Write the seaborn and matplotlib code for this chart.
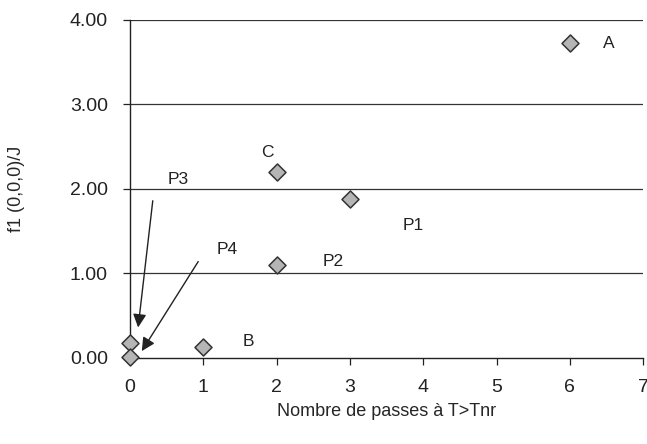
import matplotlib
matplotlib.use("Agg")
import matplotlib.pyplot as plt
import seaborn as sns
import pandas as pd

# points
passes = [0, 0, 1, 2, 2, 3, 6]
f1 = [0.18, 0.01, 0.13, 2.20, 1.10, 1.88, 3.73]

labels = ["A", "C", "P3", "P4", "P2", "P1", "B"]
label_x = [6.53, 1.87, 0.65, 1.32, 2.77, 3.87, 1.61]
label_y = [3.72, 2.43, 2.11, 1.28, 1.14, 1.57, 0.19]

# arrows (start -> tip) for P3 and P4
arrow_start = [(0.31, 1.86), (0.93, 1.14)]
arrow_tip = [(0.11, 0.36), (0.16, 0.08)]

df = pd.DataFrame({"passes": passes, "f1": f1})

sns.set_style("white")
plt.rcParams["font.family"] = ["Liberation Sans", "DejaVu Sans"]

fig = plt.figure(figsize=(6.47, 4.44), dpi=100)
ax = fig.add_axes([0.201, 0.194, 0.793, 0.761])

ax.set_ylim(0, 4)
ax.set_xlim(0, 7)
ax.set_yticks([0, 1, 2, 3, 4])
ax.set_yticklabels([f"{v:.2f}" for v in [0, 1, 2, 3, 4]])
ax.set_xticks(range(8))

for y in [1, 2, 3, 4]:
    ax.axhline(y, color="#333333", lw=0.9, zorder=1)

sns.scatterplot(data=df, x="passes", y="f1", marker="D", s=75,
                color="#b5b5b5", edgecolor="#333333", linewidth=1.1,
                ax=ax, zorder=3, clip_on=False)

for t, x, y in zip(labels, label_x, label_y):
    ax.text(x, y, t, fontsize=12.5, ha="center", va="center", color="#222222")

for s, e in zip(arrow_start, arrow_tip):
    ax.annotate("", xy=e, xytext=s,
                arrowprops=dict(arrowstyle="-|>", color="#222222", lw=1.0,
                                mutation_scale=20, shrinkA=0, shrinkB=0))

for side in ["top", "right"]:
    ax.spines[side].set_visible(False)
for side in ["left", "bottom"]:
    ax.spines[side].set_color("#222222")
    ax.spines[side].set_linewidth(1.0)

ax.tick_params(axis="both", labelsize=14, colors="#222222", length=5,
               width=0.9, direction="out", bottom=True, left=True)
ax.tick_params(axis="x", pad=10)
ax.tick_params(axis="y", pad=11)
ax.set_xlabel("Nombre de passes à T>Tnr", fontsize=13, labelpad=5)
ax.set_ylabel("f1 (0,0,0)/J", fontsize=13, labelpad=32)

fig.savefig("out.png", dpi=100)
